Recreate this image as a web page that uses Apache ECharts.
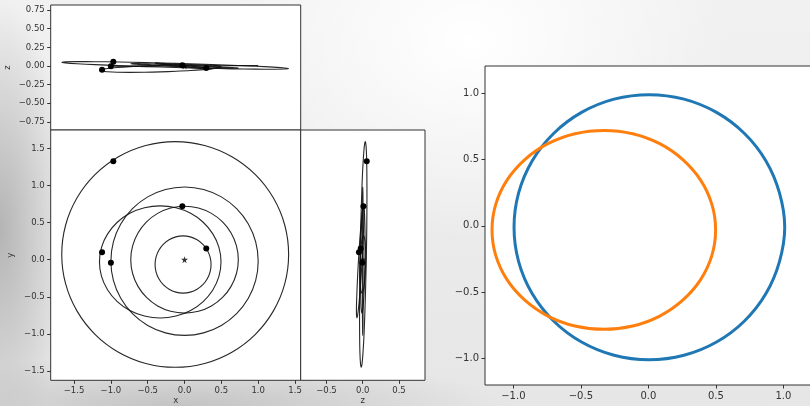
<!DOCTYPE html>
<html><head><meta charset="utf-8">
<script src="https://cdn.jsdelivr.net/npm/echarts@6/dist/echarts.min.js"></script>
<style>
html,body{margin:0;padding:0;width:810px;height:406px;overflow:hidden;}
body{background:
 radial-gradient(ellipse 260px 200px at 470px 40px, rgba(255,255,255,1) 0%, rgba(255,255,255,0) 100%),
 radial-gradient(ellipse 70px 230px at 0px 230px, rgba(180,180,180,1) 0%, rgba(180,180,180,0) 100%),
 radial-gradient(ellipse 320px 50px at 180px 406px, rgba(195,195,195,1) 0%, rgba(195,195,195,0) 100%),
 linear-gradient(180deg,#f1f1f1 0%,#e6e6e6 100%);}
#c{width:810px;height:406px;}
</style></head><body><div id="c"></div><script>
// Orbit samples [x, y, z] read from the three projections
const orbitMercury = [[0.36,-0.065,-0.040],[0.347,0.035,-0.036],[0.309,0.128,-0.030],[0.249,0.207,-0.021],[0.17,0.268,-0.011],[0.078,0.307,-0.001],[-0.02,0.32,0.010],[-0.118,0.307,0.020],[-0.21,0.268,0.029],[-0.289,0.207,0.035],[-0.349,0.128,0.040],[-0.387,0.035,0.041],[-0.40,-0.065,0.040],[-0.387,-0.165,0.036],[-0.349,-0.258,0.030],[-0.289,-0.337,0.021],[-0.21,-0.398,0.011],[-0.118,-0.437,0.001],[-0.02,-0.45,-0.010],[0.078,-0.437,-0.020],[0.17,-0.398,-0.029],[0.249,-0.337,-0.035],[0.309,-0.258,-0.040],[0.347,-0.165,-0.041]];
const orbitVenus = [[0.73,0,-0.030],[0.705,0.186,-0.026],[0.632,0.36,-0.021],[0.516,0.509,-0.014],[0.365,0.624,-0.006],[0.189,0.696,0.002],[0,0.72,0.010],[-0.189,0.696,0.017],[-0.365,0.624,0.024],[-0.516,0.509,0.028],[-0.632,0.36,0.031],[-0.705,0.186,0.032],[-0.73,0,0.030],[-0.705,-0.186,0.026],[-0.632,-0.36,0.021],[-0.516,-0.509,0.014],[-0.365,-0.624,0.006],[-0.189,-0.696,-0.002],[0,-0.72,-0.010],[0.189,-0.696,-0.017],[0.365,-0.624,-0.024],[0.516,-0.509,-0.028],[0.632,-0.36,-0.031],[0.705,-0.186,-0.032]];
const orbitEarth = [[1,-0.02,0.005],[0.966,0.239,0.005],[0.866,0.48,0.004],[0.707,0.687,0.004],[0.5,0.846,0.003],[0.259,0.946,0.001],[0,0.98,0],[-0.259,0.946,-0.001],[-0.5,0.846,-0.003],[-0.707,0.687,-0.004],[-0.866,0.48,-0.004],[-0.966,0.239,-0.005],[-1,-0.02,-0.005],[-0.966,-0.279,-0.005],[-0.866,-0.52,-0.004],[-0.707,-0.727,-0.004],[-0.5,-0.886,-0.003],[-0.259,-0.986,-0.001],[0,-1.02,0],[0.259,-0.986,0.001],[0.5,-0.886,0.003],[0.707,-0.727,0.004],[0.866,-0.52,0.004],[0.966,-0.279,0.005]];
const orbitMars = [[0.495,-0.03,-0.010],[0.467,0.166,0.001],[0.384,0.348,0.009],[0.253,0.504,0.015],[0.083,0.624,0.017],[-0.116,0.699,0.015],[-0.33,0.725,0.010],[-0.544,0.699,0.002],[-0.743,0.624,-0.009],[-0.913,0.504,-0.021],[-1.044,0.348,-0.034],[-1.127,0.166,-0.048],[-1.155,-0.03,-0.060],[-1.127,-0.226,-0.071],[-1.044,-0.408,-0.079],[-0.913,-0.564,-0.085],[-0.743,-0.684,-0.087],[-0.544,-0.759,-0.085],[-0.33,-0.785,-0.080],[-0.116,-0.759,-0.072],[0.083,-0.684,-0.062],[0.253,-0.564,-0.049],[0.384,-0.408,-0.036],[0.467,-0.226,-0.023]];
const orbitOuter = [[1.413,0.07,-0.036],[1.361,0.464,-0.027],[1.207,0.83,-0.016],[0.962,1.145,-0.004],[0.643,1.386,0.010],[0.272,1.538,0.023],[-0.127,1.59,0.035],[-0.526,1.538,0.045],[-0.897,1.386,0.053],[-1.216,1.145,0.057],[-1.461,0.83,0.058],[-1.615,0.464,0.056],[-1.667,0.07,0.050],[-1.615,-0.324,0.041],[-1.461,-0.69,0.030],[-1.216,-1.005,0.018],[-0.897,-1.246,0.004],[-0.526,-1.398,-0.009],[-0.127,-1.45,-0.021],[0.272,-1.398,-0.031],[0.643,-1.246,-0.039],[0.962,-1.005,-0.043],[1.207,-0.69,-0.044],[1.361,-0.324,-0.042]];
const planets = [[0.295,0.15,-0.028],[-0.03,0.72,0.010],[-1.0,-0.04,-0.005],[-1.12,0.10,-0.052],[-0.967,1.325,0.055]];
const sun = [[0,0,0]];
// Right panel traces [x, y]
const traceBlue = [[1.01,-0.01],[0.971,0.249],[0.871,0.49],[0.712,0.697],[0.505,0.856],[0.264,0.956],[0.005,0.99],[-0.254,0.956],[-0.495,0.856],[-0.702,0.697],[-0.861,0.49],[-0.961,0.249],[-0.995,-0.01],[-0.961,-0.269],[-0.861,-0.51],[-0.702,-0.717],[-0.495,-0.876],[-0.254,-0.976],[0.005,-1.01],[0.264,-0.976],[0.505,-0.876],[0.712,-0.717],[0.871,-0.51],[0.971,-0.269]];
const traceOrange = [[0.498,-0.03],[0.47,0.164],[0.387,0.345],[0.255,0.5],[0.084,0.62],[-0.116,0.695],[-0.33,0.72],[-0.544,0.695],[-0.744,0.62],[-0.915,0.5],[-1.047,0.345],[-1.13,0.164],[-1.158,-0.03],[-1.13,-0.224],[-1.047,-0.405],[-0.915,-0.56],[-0.744,-0.68],[-0.544,-0.755],[-0.33,-0.78],[-0.116,-0.755],[0.084,-0.68],[0.255,-0.56],[0.387,-0.405],[0.47,-0.224]];
// Tick values
const ticksXY = [-1.5,-1.0,-0.5,0.0,0.5,1.0,1.5];
const ticksZside = [-0.5,0.0,0.5];
const ticksZtop = [-0.75,-0.5,-0.25,0.0,0.25,0.5,0.75];
const ticksRight = [-1.0,-0.5,0.0,0.5,1.0];

const orbits = [orbitMercury, orbitVenus, orbitEarth, orbitMars, orbitOuter];
const fmt = d => v => (v < 0 ? '\u2212' : '') + Math.abs(v).toFixed(d);
const FONT = 'DejaVu Sans';
const lblStyle = {fontFamily: FONT, fontSize: 8.5, color: '#333'};

function axis(gi, min, max, ticks, dec, show, extra, fs) {
  const a = {
    type: 'value', gridIndex: gi, min: min, max: max, nameMoveOverlap: false,
    axisLine: {show: false, onZero: false}, splitLine: {show: false},
    axisTick: {show: show, length: 3.5, lineStyle: {color: '#333', width: 1}, customValues: ticks},
    axisLabel: Object.assign({show: show, margin: 6, customValues: ticks, formatter: fmt(dec)}, lblStyle, fs ? {fontSize: fs} : {})
  };
  return Object.assign(a, extra || {});
}

// closed smooth curve through the sample points, placed with the axes' own scales
function loopSeries(gi, pts, color, width, smooth) {
  return {
    type: 'custom', xAxisIndex: gi, yAxisIndex: gi, silent: true, data: pts,
    renderItem: function (params, api) {
      if (params.dataIndex !== 0) return null;
      const pix = pts.map(p => api.coord(p));
      return {type: 'polygon', shape: {points: pix, smooth: smooth},
        style: {fill: 'none', stroke: color, lineWidth: width}};
    }
  };
}

const X = p => p[0], Y = p => p[1], Z = p => p[2];
const proj = [[X, Z], [X, Y], [Z, Y]];
const series = [];
proj.forEach((pr, gi) => {
  orbits.forEach(o => {
    series.push(loopSeries(gi, o.map(p => [pr[0](p), pr[1](p)]), 'rgba(15,15,15,0.9)', 1.1, 0.33));
  });
  series.push({type: 'scatter', xAxisIndex: gi, yAxisIndex: gi, symbolSize: 6, itemStyle: {color: '#000', opacity: 1},
    data: planets.map(p => [pr[0](p), pr[1](p)])});
  series.push({type: 'scatter', xAxisIndex: gi, yAxisIndex: gi, symbolSize: 7,
    symbol: 'path://M50,0 L61,35 L98,35 L68,57 L79,91 L50,70 L21,91 L32,57 L2,35 L39,35 Z',
    itemStyle: {color: '#000'}, data: sun.map(p => [pr[0](p), pr[1](p)])});
});
series.push(loopSeries(3, traceBlue, '#1f77b4', 3, 0.33));
series.push(loopSeries(3, traceOrange, '#ff7f0e', 3, 0.33));

const gridBox = {show: true, backgroundColor: '#fff', borderColor: '#333', borderWidth: 1, outerBoundsMode: 'none', containLabel: false};
const nameStyle = {fontFamily: FONT, fontSize: 8.5, color: '#333'};
const option = {
  animation: false,
  backgroundColor: 'transparent',
  grid: [
    Object.assign({left: 50.7, top: 5, width: 250, height: 125}, gridBox),
    Object.assign({left: 50.7, top: 130, width: 250, height: 250.3}, gridBox),
    Object.assign({left: 300.7, top: 130, width: 124.3, height: 250.3}, gridBox),
    Object.assign({left: 485, top: 66, width: 327, height: 319}, gridBox)
  ],
  xAxis: [
    axis(0, -1.817, 1.577, ticksXY, 1, false),
    axis(1, -1.817, 1.577, ticksXY, 1, true, {name: 'x', nameLocation: 'middle', nameGap: 16, nameTextStyle: nameStyle}),
    axis(2, -0.855, 0.858, ticksZside, 1, true, {name: 'z', nameLocation: 'middle', nameGap: 16, nameTextStyle: nameStyle}),
    axis(3, -1.21, 1.212, ticksRight, 1, true, null, 10)
  ],
  yAxis: [
    axis(0, -0.86, 0.818, ticksZtop, 2, true, {name: 'z', nameLocation: 'middle', nameGap: 38, nameTextStyle: nameStyle}),
    axis(1, -1.625, 1.747, ticksXY, 1, true, {name: 'y', nameLocation: 'middle', nameGap: 35, nameTextStyle: nameStyle}),
    axis(2, -1.625, 1.747, ticksXY, 1, false),
    axis(3, -1.2, 1.206, ticksRight, 1, true, null, 10)
  ],
  series: series
};
const chart = echarts.init(document.getElementById('c'), null, {renderer: 'canvas'});
chart.setOption(option);
</script></body></html>
